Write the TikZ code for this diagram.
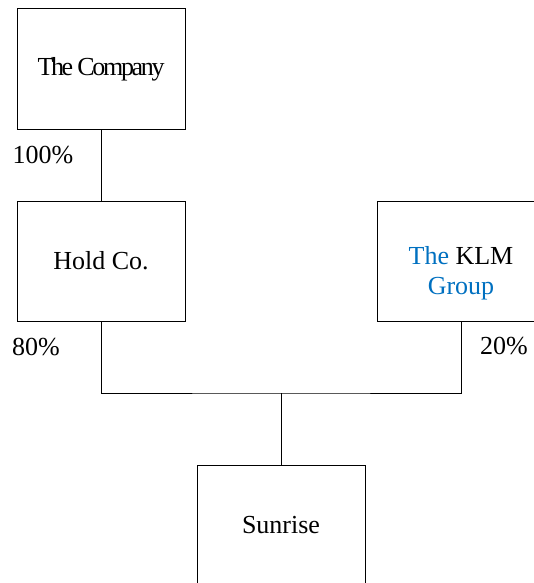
\documentclass[tikz,border=0pt]{standalone}
\usepackage{fontspec}
\setmainfont{Liberation Serif}
\usepackage{tikz}
\usetikzlibrary{shapes,arrows,chains}
\definecolor{klmblue}{RGB}{0,112,192}
\tikzstyle{entity} = [draw, rectangle, line width=0.5pt, minimum width=84pt, minimum height=60pt, inner sep=0pt]
\tikzstyle{share} = [inner sep=0pt]
\tikzstyle{link} = [line width=0.5pt]

\begin{document}
\begin{tikzpicture}[x=0.5pt, y=-0.5pt, font=\fontsize{13}{15}\selectfont]   % ownership chart

        \useasboundingbox (0, 0) -- (0, 583) -- (534, 583) -- (534, 0) -- cycle;
        \clip (0, 0) rectangle (534, 583);

        % Parent company at the top
        \node[entity] (company) at (101,69) {\addfontfeature{LetterSpace=-9}The Company};

        % Intermediate holding company
        \node[entity] (hold) at (101,261) {Hold Co.};

        % Outside shareholder
        \node[entity] (klm) at (461,261) {};
        \node[share, align=center] (klmname) at (461,273) {\textcolor{klmblue}{The} KLM\\\textcolor{klmblue}{Group}};

        % Joint venture at the bottom
        \node[entity] (sunrise) at (281,525) {Sunrise};

        % Junction of the two holdings
        \coordinate (join) at (281,393);

        % Ownership lines
        \draw[link] (company) -- (hold);                       % Company -> Hold Co.
        \draw[link] (hold.south) |- (join) -| (klm.south);    % Hold Co. + KLM
        \draw[link] (join) -- (sunrise);                       % -> Sunrise

        % Percentages
        \node[share] (pcthold) at (43,155) {100\%};
        \node[share] (pctsun) at (36,347) {80\%};
        \node[share] (pctklm) at (504,346) {20\%};

    \end{tikzpicture}
\end{document}
